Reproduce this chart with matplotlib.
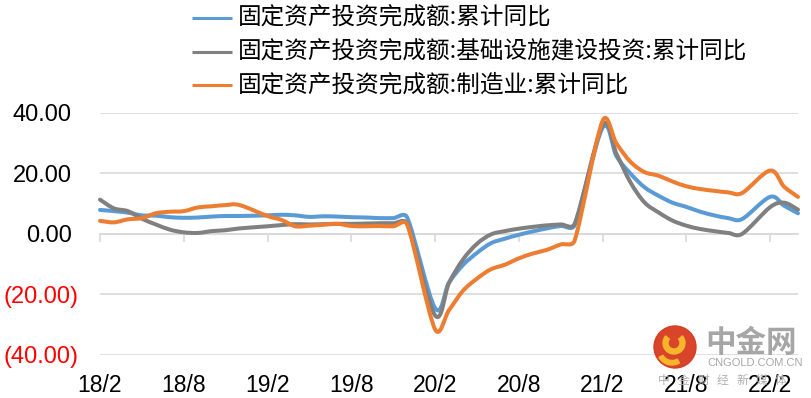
import numpy as np
import matplotlib
matplotlib.use("Agg")
import matplotlib.pyplot as plt
from matplotlib.path import Path
from matplotlib.patches import PathPatch, Circle, Wedge
from matplotlib.lines import Line2D

# ---------------- data ----------------
months = [f"{y}-{m:02d}" for y in range(2018, 2023) for m in range(2, 13)][:47]

fai_total = [7.9, 7.5, 7.0, 6.1, 6.0, 5.5, 5.3, 5.4, 5.7, 5.9, 5.9,
             6.1, 6.3, 6.1, 5.6, 5.8, 5.7, 5.5, 5.4, 5.2, 5.2, 5.4,
             -24.5, -16.1, -10.3, -6.3, -3.1, -1.6, -0.3, 0.8, 1.8, 2.6, 2.9,
             35.0, 25.6, 19.9, 15.4, 12.6, 10.3, 8.9, 7.3, 6.1, 5.2, 4.9,
             12.2, 9.3, 6.8]

fai_infra = [11.3, 8.4, 7.5, 5.0, 3.1, 1.4, 0.5, 0.3, 0.9, 1.2, 1.8,
             2.5, 2.9, 3.2, 3.1, 3.2, 3.3, 3.3, 3.4, 3.5, 3.5, 3.3,
             -26.9, -16.2, -8.5, -3.3, -0.2, 0.9, 1.7, 2.3, 2.8, 3.1, 3.3,
             35.8, 26.4, 17.0, 10.4, 7.1, 4.4, 2.7, 1.6, 0.9, 0.3, 0.0,
             8.8, 10.3, 8.0]

fai_manu = [4.3, 3.8, 4.8, 5.2, 6.8, 7.3, 7.5, 8.7, 9.1, 9.5, 9.5,
            5.9, 4.6, 2.5, 2.7, 3.0, 3.3, 2.6, 2.5, 2.6, 2.5, 3.1,
            -31.5, -25.2, -18.8, -14.8, -11.7, -10.2, -8.1, -6.5, -5.3, -3.5, -2.2,
            37.3, 29.8, 23.8, 20.4, 19.2, 17.3, 15.7, 14.8, 14.2, 13.7, 13.5,
            20.9, 15.6, 12.2]

series_names = ["固定资产投资完成额:累计同比",
                "固定资产投资完成额:基础设施建设投资:累计同比",
                "固定资产投资完成额:制造业:累计同比"]

tick_months = ["2018-02", "2018-08", "2019-02", "2019-08", "2020-02",
               "2020-08", "2021-02", "2021-08", "2022-02"]
tick_labels = ["18/2", "18/8", "19/2", "19/8", "20/2", "20/8", "21/2", "21/8", "22/2"]
y_ticks = [-40, -20, 0, 20, 40]

colors = ["#5B9BD5", "#808080", "#ED7D31"]

watermark_brand = "中金网"
watermark_url = "CNGOLD.COM.CN"
watermark_slogan = "中金财经新媒体"


def month_index(s):
    y, m = map(int, s.split("-"))
    return (y - 2018) * 12 + (m - 2)


x = np.array([month_index(s) for s in months], dtype=float)

# ---------------- figure ----------------
W, H, DPI = 812, 398, 100
CJK = ["Noto Sans CJK SC", "DejaVu Sans"]
LAT = ["Liberation Sans", "DejaVu Sans"]

fig = plt.figure(figsize=(W / DPI, H / DPI), dpi=DPI)
ax = fig.add_axes([100 / W, (H - 355) / H, 698 / W, (355 - 112.7) / H])
ax.set_xlim(0, month_index("2022-04"))
ax.set_ylim(-40, 40)

ax.set_yticks(y_ticks)
ax.yaxis.grid(True, color="#D9D9D9", lw=1.2)
ax.set_axisbelow(True)
ax.tick_params(axis="y", length=0, labelleft=False)
for s in ["left", "right", "top"]:
    ax.spines[s].set_visible(False)
ax.spines["bottom"].set_position(("data", 0))
ax.spines["bottom"].set_color("#D9D9D9")
ax.spines["bottom"].set_linewidth(1.2)
ax.set_xticks([month_index(t) for t in tick_months])
ax.tick_params(axis="x", direction="out", length=6, width=1.2,
               color="#D9D9D9", labelbottom=False)

# y labels (accounting style)
for v in y_ticks:
    if v < 0:
        txt, col, off = f"({abs(v):.2f})", "#FF0000", -21
    else:
        txt, col, off = f"{v:.2f}", "#000000", -28
    ax.annotate(txt, xy=(0, v), xycoords=("axes fraction", "data"),
                xytext=(off, -8.3), textcoords="offset pixels",
                ha="right", va="baseline", fontsize=17, family=LAT, color=col)


# Excel-like smoothed line (bezier through the data points)
def smooth_line(ax, xs, ys, color, lw):
    pts = ax.transData.transform(np.column_stack([xs, ys]))
    n = len(pts)
    verts = [pts[0]]
    codes = [Path.MOVETO]
    for i in range(n - 1):
        p0 = pts[i - 1] if i > 0 else pts[i]
        p1 = pts[i]
        p2 = pts[i + 1]
        p3 = pts[i + 2] if i + 2 < n else pts[i + 1]
        d12 = np.linalg.norm(p2 - p1)
        d02 = np.linalg.norm(p2 - p0)
        d13 = np.linalg.norm(p3 - p1)
        f1 = min(1 / 6, d12 / (2 * d02)) if d02 > 0 else 0
        f2 = min(1 / 6, d12 / (2 * d13)) if d13 > 0 else 0
        c1 = p1 + (p2 - p0) * f1
        c2 = p2 - (p3 - p1) * f2
        verts += [c1, c2, p2]
        codes += [Path.CURVE4] * 3
    verts = ax.transData.inverted().transform(np.array(verts))
    patch = PathPatch(Path(verts, codes), fill=False, edgecolor=color, lw=lw,
                      capstyle="round", joinstyle="round", clip_on=False, zorder=3)
    ax.add_patch(patch)


for ys, c in zip([fai_total, fai_infra, fai_manu], colors):
    smooth_line(ax, x, np.array(ys, dtype=float), c, 2.9)

# legend (manual)
for i, (name, c) in enumerate(zip(series_names, colors)):
    yc = 1 - (18.3 + 33.35 * i) / H
    fig.add_artist(Line2D([192 / W, 232 / W], [yc, yc], color=c, lw=2.2,
                          solid_capstyle="butt"))
    fig.text(238 / W, yc, name, va="center", ha="left", fontsize=17,
             family=CJK, color="#000000")

# watermark
fig.add_artist(Circle((6.75, (H - 347) / DPI), 0.21, transform=fig.dpi_scale_trans,
                      color="#D63B1F", alpha=0.95, zorder=5))
fig.add_artist(Wedge((6.74, (H - 343) / DPI), 0.11, 140, 400, width=0.05,
                     transform=fig.dpi_scale_trans, color="#F7B52C", zorder=6))
fig.add_artist(Wedge((6.72, (H - 350) / DPI), 0.15, 210, 300, width=0.045,
                     transform=fig.dpi_scale_trans, color="#F7B52C", zorder=6))
fig.text(705 / W, 1 - 343 / H, watermark_brand, fontsize=22, fontweight="bold",
         color="#A6A6A6", family=CJK, va="center", ha="left", zorder=5)
fig.text(707 / W, 1 - 363 / H, watermark_url, fontsize=8,
         color="#A6A6A6", family=LAT, va="center", ha="left", zorder=5)
for k, ch in enumerate(watermark_slogan):
    fig.text((664 + 19.5 * k) / W, 1 - 380.7 / H, ch, fontsize=8.5,
             color="#B0B0B0", family=CJK, va="center", ha="center", zorder=5)

# x labels at bottom (drawn on top of watermark)
for t, lbl in zip(tick_months, tick_labels):
    ax.annotate(lbl, xy=(month_index(t), 0), xycoords=("data", "axes fraction"),
                xytext=(0, -37), textcoords="offset pixels",
                ha="center", va="baseline", fontsize=16.5, family=LAT,
                color="#000000", annotation_clip=False, zorder=10)

fig.savefig("out.png", dpi=DPI)
